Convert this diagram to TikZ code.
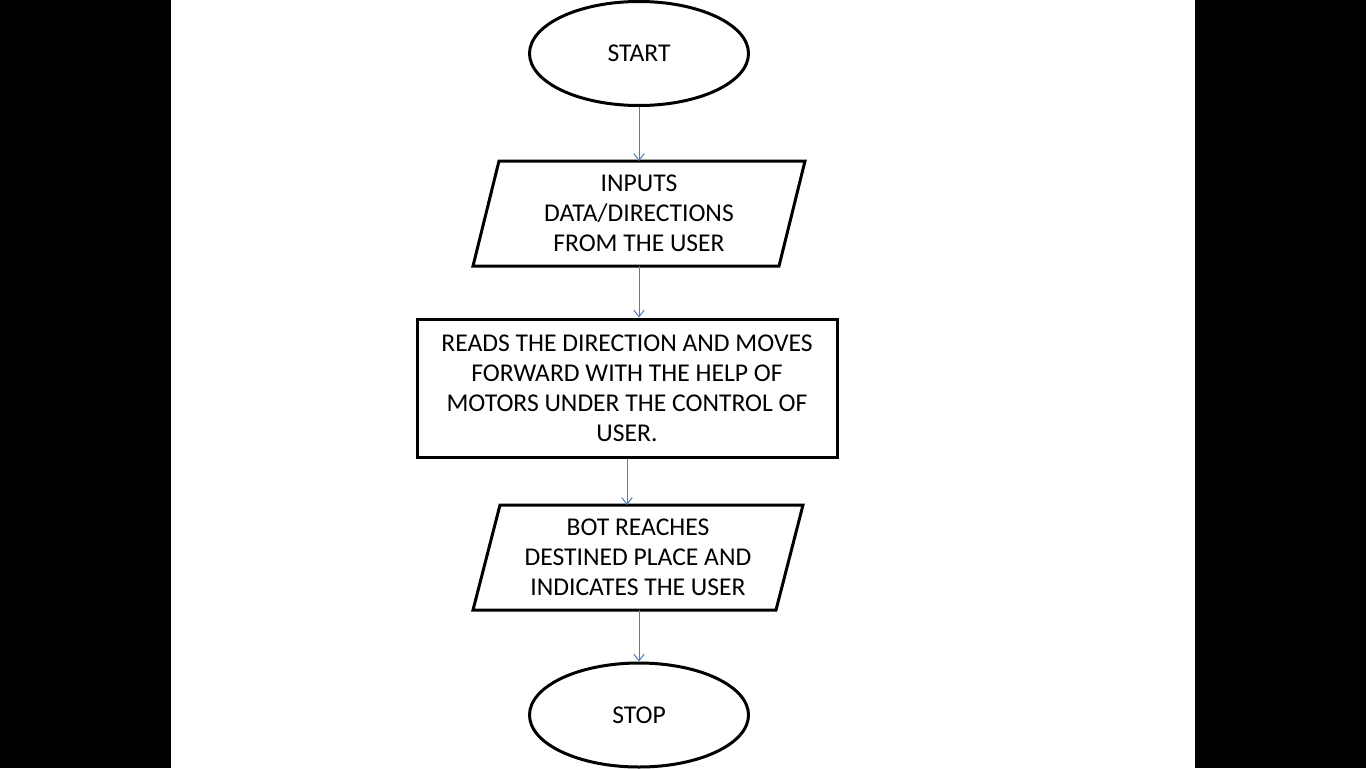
\documentclass[tikz,border=0pt]{standalone}
\usepackage{fontspec}
\setmainfont{Carlito}
\usetikzlibrary{shapes.geometric,arrows.meta}
\definecolor{arrowblue}{HTML}{4A7EBB}
\tikzset{
  txt/.style={font=\fontsize{19.2pt}{22.5pt}\selectfont, align=center, text=black},
  term/.style={txt, ellipse, draw=black, line width=2.25pt, minimum width=164.25pt, minimum height=78pt, inner sep=0pt},
  procbox/.style={txt, rectangle, draw=black, line width=2.25pt, minimum width=315pt, minimum height=103.5pt, inner sep=0pt},
  ioframe/.style={txt, rectangle, draw=none, inner sep=0pt, outer sep=0pt, minimum height=78.75pt},
  ioline/.style={draw=black, line width=2.25pt, line join=miter},
  flow/.style={draw=arrowblue, line width=0.75pt, -{Straight Barb[length=5pt,width=8pt,line width=0.75pt]}}
}
\begin{document}
\begin{tikzpicture}[x=0.75pt,y=-0.75pt]
\useasboundingbox (0,0) rectangle (1366,768);
\fill[black] (0,0) rectangle (1366,768);
\fill[white] (171,0) rectangle (1195,768);

\node[term] (start) at (639,53.5) {START};
\node[ioframe, minimum width=229.5pt] (inp) at (639,213.5) {INPUTS\\DATA/DIRECTIONS\\FROM THE USER};
\draw[ioline] ([xshift=9.75pt]inp.north west) -- ([xshift=9.75pt]inp.north east) -- ([xshift=-9.75pt]inp.south east) -- ([xshift=-9.75pt]inp.south west) -- cycle;
\node[procbox] (read) at (627,388) {READS THE DIRECTION AND MOVES\\FORWARD WITH THE HELP OF\\MOTORS UNDER THE CONTROL OF\\USER.};
\node[ioframe, minimum width=227.25pt] (reach) at (638,557.5) {BOT REACHES\\DESTINED PLACE AND\\INDICATES THE USER};
\draw[ioline] ([xshift=10.125pt]reach.north west) -- ([xshift=10.125pt]reach.north east) -- ([xshift=-10.125pt]reach.south east) -- ([xshift=-10.125pt]reach.south west) -- cycle;
\node[term] (stop) at (639,715) {STOP};

\draw[flow] (start.south) -- (inp.north);
\draw[flow] (inp.south) -- (read.north -| inp.south);
\draw[flow] (read.south) -- (read.south |- reach.north);
\draw[flow] (reach.south -| stop.north) -- (stop.north);
\end{tikzpicture}
\end{document}
